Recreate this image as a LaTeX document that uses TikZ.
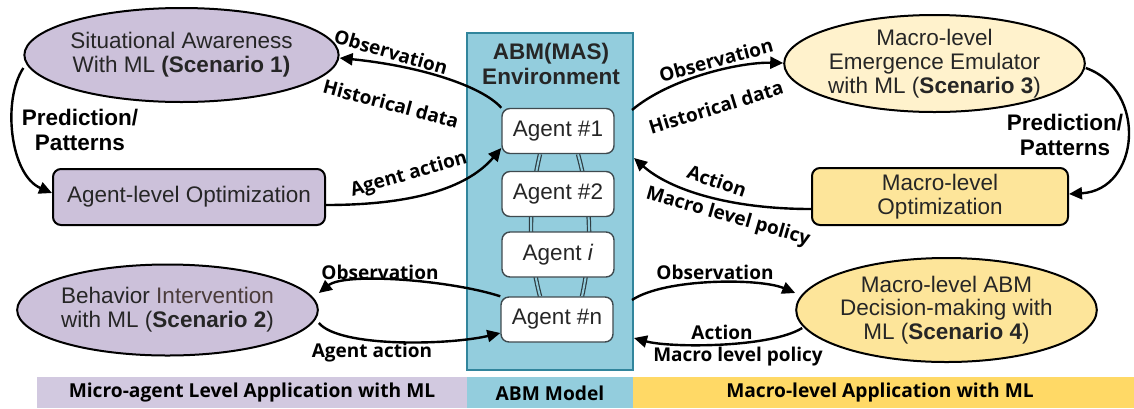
\documentclass[tikz,border=0pt]{standalone}
\usepackage{fontspec}
\setmainfont{Liberation Sans}
\newfontfamily\labfont{Open Sans}
\usetikzlibrary{arrows.meta,shapes.geometric}
\definecolor{purpfill}{HTML}{CCC1DA}
\definecolor{purpband}{HTML}{D2C9E0}
\definecolor{yellite}{HTML}{FFF2CC}
\definecolor{yelmid}{HTML}{FDE59A}
\definecolor{yelband}{HTML}{FFD966}
\definecolor{tealfill}{HTML}{93CDDD}
\definecolor{tealline}{HTML}{31859C}
\definecolor{txtgray}{HTML}{262626}
\definecolor{agentline}{HTML}{3F4A4F}
\definecolor{linkline}{HTML}{2E3D42}
\pgfdeclarelayer{bg}
\pgfsetlayers{bg,main}
\begin{document}
\begin{tikzpicture}[x=0.5pt,y=-0.5pt,
  nodetext/.style={font=\fontsize{11.25}{11.9}\selectfont, text=txtgray, align=center},
  ellbox/.style={ellipse, draw=black, line width=1pt, inner sep=0pt, nodetext},
  optbox/.style={rectangle, rounded corners=4pt, draw=black, line width=1pt, inner sep=0pt, nodetext},
  agentbox/.style={rectangle, rounded corners=4pt, draw=agentline, line width=0.7pt, fill=white,
    minimum width=56pt, minimum height=22.5pt, inner sep=0pt, nodetext},
  lab/.style={font=\labfont\bfseries\fontsize{9.5}{10}\selectfont, inner sep=0pt},
  boldlab/.style={font=\bfseries\fontsize{11.25}{12.6}\selectfont, align=center, inner sep=0pt},
  bandlab/.style={font=\labfont\bfseries\fontsize{9.6}{10}\selectfont, inner sep=0pt},
  arr/.style={-{Triangle[length=6.5pt,width=6pt]}, line width=1.2pt},
  link/.style={draw=linkline, line width=0.6pt, double=tealfill, double distance=1pt},
]
\useasboundingbox (0,0) rectangle (1134,408);

% bottom band of application levels
\fill[purpband] (37,377) rectangle (467,408);
\fill[tealfill] (467,377) rectangle (633,408);
\fill[yelband] (633,377) rectangle (1134,408);
\node[bandlab] (bandmicro) at (252,393) {Micro-agent Level Application with ML};
\node[bandlab] (bandabm) at (550,393) {ABM Model};
\node[bandlab] (bandmacro) at (880,393) {Macro-level Application with ML};

% ABM environment with its agents
\begin{pgfonlayer}{bg}
\node[rectangle, draw=tealline, line width=1.2pt, fill=tealfill, minimum width=83pt, minimum height=168.5pt, inner sep=0pt] (abm) at (550,201.5) {};
\end{pgfonlayer}
\node[boldlab, text=txtgray] (abmtitle) at (551,64) {ABM(MAS)\\Environment};
\node[agentbox] (a1) at (558,131) {Agent \#1};
\node[agentbox] (a2) at (558,194) {Agent \#2};
\node[agentbox] (ai) at (558,254.5) {Agent \textit{i}};
\node[agentbox] (an) at (557,319.5) {Agent \#n};
\begin{pgfonlayer}{bg}
\draw[link] ([xshift=-9pt]a1.south) .. controls (528,205) and (528,250) .. ([xshift=-8.5pt]an.north);
\draw[link] ([xshift=10pt]a1.south) .. controls (592,205) and (592,250) .. ([xshift=12.5pt]an.north);
\end{pgfonlayer}

% scenario 1 loop
\node[ellbox, fill=purpfill, minimum width=136.5pt, minimum height=47pt] (sa) at (181.5,55)
  {Situational Awareness\\With ML \textbf{(Scenario 1)}};
\node[optbox, fill=purpfill, minimum width=136pt, minimum height=28pt] (alo) at (189,197)
  {Agent-level Optimization};
\node[boldlab] (pp1) at (80,130) {Prediction/\\Patterns};
\draw[arr] (sa.west |- 0,68) .. controls (2,100) and (10,175) .. (alo.west |- 0,193);
\draw[arr] (a1.north west) .. controls (482,86) and (420,66) .. (sa.east |- 0,58);
\draw[arr] (alo.east |- 0,205) .. controls (420,205) and (470,185) .. (a1.west |- 0,148);
\node[lab, rotate=-16] (obs1) at (391,52) {Observation};
\node[lab, rotate=-15] (hist1) at (391,104) {Historical data};
\node[lab, rotate=16] (act1) at (409,175) {Agent action};

% scenario 3 loop
\node[ellbox, fill=yellite, minimum width=137.5pt, minimum height=48.5pt] (me) at (934.5,63.5)
  {Macro-level\\Emergence Emulator\\with ML (\textbf{Scenario 3})};
\node[optbox, fill=yelmid, minimum width=128pt, minimum height=28.5pt] (mo) at (940,196.5)
  {Macro-level\\Optimization};
\node[boldlab] (pp3) at (1065,135) {Prediction/\\Patterns};
\coordinate (abmtr) at (632,110);
\coordinate (abmar) at (634,158);
\draw[arr] (abmtr) .. controls (670,78) and (740,62) .. (me.west |- 0,63);
\draw[arr] (me.east |- 0,68) .. controls (1148,90) and (1140,190) .. (mo.east |- 0,194);
\draw[arr] (mo.west |- 0,209) .. controls (730,209) and (670,190) .. (abmar);
\node[lab, rotate=15] (obs3) at (716,60) {Observation};
\node[lab, rotate=17] (hist3) at (716,107) {Historical data};
\node[lab, rotate=-19] (act3) at (717,181) {Action};
\node[lab, rotate=-16] (pol3) at (728,217) {Macro level policy};

% scenario 2 loop
\node[ellbox, fill=purpfill, minimum width=135.5pt, minimum height=45.5pt] (bi) at (167.5,310)
  {Behavior {\color[HTML]{4A3B3A}Intervention}\\with ML (\textbf{Scenario 2})};
\draw[arr] (an.north west) .. controls (450,280) and (345,272) .. (bi.east |- 0,293);
\draw[arr] (bi.east |- 0,323) .. controls (340,348) and (450,345) .. (an.west |- 0,333);
\node[lab] (obs2) at (380,272) {Observation};
\node[lab] (act2) at (372,353) {Agent action};

% scenario 4 loop
\node[ellbox, fill=yelmid, minimum width=141.5pt, minimum height=52pt] (md) at (946.5,310)
  {Macro-level ABM\\Decision-making with\\ML (\textbf{Scenario 4})};
\coordinate (abmbr) at (632,300);
\coordinate (abmbar) at (634,338);
\draw[arr] (abmbr) .. controls (665,278) and (760,278) .. (md.west |- 0,293);
\draw[arr] (md.west |- 0,328) ++(7,0) .. controls (770,348) and (670,348) .. (abmbar);
\node[lab] (obs4) at (715,272) {Observation};
\node[lab] (act4) at (722,332) {Action};
\node[lab] (pol4) at (738,357) {Macro level policy};
\end{tikzpicture}
\end{document}
